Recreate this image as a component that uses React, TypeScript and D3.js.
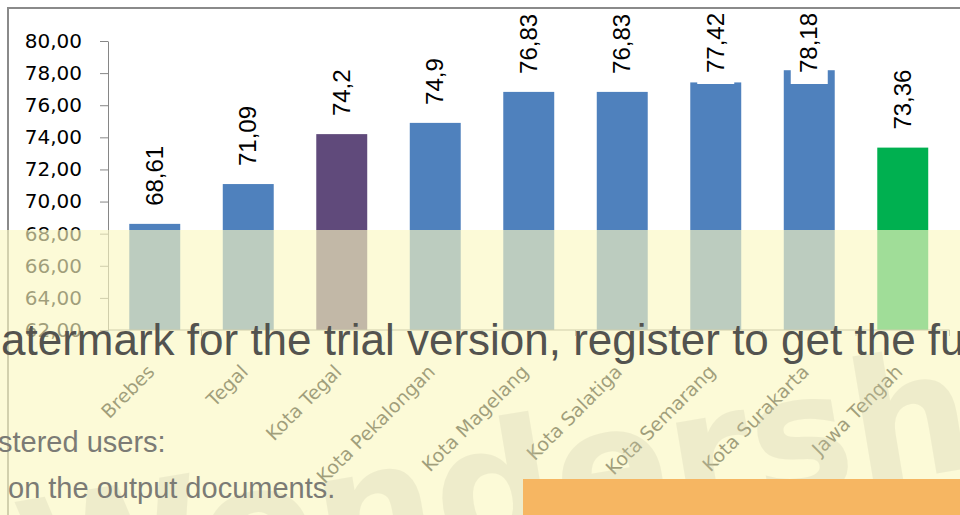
import React, { useEffect, useRef } from 'react';
import * as d3 from 'd3';

// data
const categories = ['Brebes', 'Tegal', 'Kota Tegal', 'Kota Pekalongan', 'Kota Magelang', 'Kota Salatiga', 'Kota Semarang', 'Kota Surakarta', 'Jawa Tengah'];
const values = [68.61, 71.09, 74.2, 74.9, 76.83, 76.83, 77.42, 78.18, 73.36];
const valueLabels = ['68,61', '71,09', '74,2', '74,9', '76,83', '76,83', '77,42', '78,18', '73,36'];
const barColors = ['#4f81bd', '#4f81bd', '#604a7b', '#4f81bd', '#4f81bd', '#4f81bd', '#4f81bd', '#4f81bd', '#00b050'];
const yTicks = [62, 64, 66, 68, 70, 72, 74, 76, 78, 80];
const yTickLabels = ['62,00', '64,00', '66,00', '68,00', '70,00', '72,00', '74,00', '76,00', '78,00', '80,00'];

// trial watermark lying over the picture
const watermarkTitle = 'atermark for the trial version, register to get the full one!';
const watermarkLine1 = 'stered users:';
const watermarkLine2 = 'on the output documents.';
const watermarkLogo = 'Wondershare';

const W = 960;
const H = 515;

const BarChart = () => {
  const ref = useRef<SVGSVGElement | null>(null);

  useEffect(() => {
    if (!ref.current) return;
    const svg = d3.select(ref.current);
    svg.selectAll('*').remove();

    const left = 108;
    const right = 949.5;
    const top = 41;
    const bottom = 330;

    const x = d3.scaleBand<string>()
      .domain(categories)
      .range([left, right])
      .paddingInner(0.455)
      .paddingOuter(0.2275);

    const y = d3.scaleLinear()
      .domain([62, 80])
      .range([bottom, top]);

    svg.append('rect').attr('width', W).attr('height', H).attr('fill', '#fff');

    // chart area border
    svg.append('path')
      .attr('d', `M8,${H} V8 H${W}`)
      .attr('fill', 'none')
      .attr('stroke', '#8a8a8a')
      .attr('stroke-width', 2);

    // bars
    svg.append('g')
      .selectAll('rect')
      .data(values)
      .enter()
      .append('rect')
      .attr('x', (d, i) => x(categories[i]) as number)
      .attr('y', d => y(d))
      .attr('width', x.bandwidth())
      .attr('height', d => bottom - y(d))
      .attr('fill', (d, i) => barColors[i]);

    // value labels (kept inside the plot, white box behind)
    const labels = svg.append('g');
    values.forEach((v, i) => {
      const cx = (x(categories[i]) as number) + x.bandwidth() / 2;
      const yb = Math.max(y(v) - 18, 73);
      labels.append('rect')
        .attr('x', cx - 18.5)
        .attr('y', yb - 62)
        .attr('width', 37)
        .attr('height', 73)
        .attr('fill', '#fff');
      labels.append('text')
        .attr('transform', `translate(${cx + 8},${yb}) rotate(-90)`)
        .attr('text-anchor', 'start')
        .style('font-family', '"Liberation Sans", Arial, sans-serif')
        .style('font-size', '24px')
        .style('fill', '#000')
        .text(valueLabels[i]);
    });

    // Y axis
    svg.append('g')
      .attr('transform', `translate(${left},0)`)
      .call(d3.axisLeft(y)
        .tickValues(yTicks)
        .tickSize(8)
        .tickSizeOuter(0)
        .tickPadding(18)
        .tickFormat((d, i) => yTickLabels[i]))
      .call(g => g.select('.domain').attr('stroke', '#868686'))
      .call(g => g.selectAll('.tick line').attr('stroke', '#868686'))
      .call(g => g.selectAll('.tick text')
        .style('font-family', '"DejaVu Sans", Verdana, sans-serif')
        .style('font-size', '20px')
        .style('fill', '#000'));

    // X axis with ticks between categories
    const xAxis = svg.append('g');
    xAxis.append('line')
      .attr('x1', left).attr('x2', right)
      .attr('y1', bottom).attr('y2', bottom)
      .attr('stroke', '#868686');
    xAxis.selectAll('.xt')
      .data(d3.range(categories.length + 1))
      .enter()
      .append('line')
      .attr('x1', i => left + i * x.step())
      .attr('x2', i => left + i * x.step())
      .attr('y1', bottom)
      .attr('y2', bottom + 6)
      .attr('stroke', '#868686');
    xAxis.selectAll('text')
      .data(categories)
      .enter()
      .append('text')
      .attr('transform', d => `translate(${(x(d) as number) + x.bandwidth() / 2 + 1},373) rotate(-45)`)
      .attr('text-anchor', 'end')
      .style('font-family', '"DejaVu Sans", Verdana, sans-serif')
      .style('font-size', '19px')
      .style('fill', '#000')
      .text(d => d);

    // watermark band
    svg.append('rect')
      .attr('x', 0).attr('y', 230)
      .attr('width', W).attr('height', H - 230)
      .attr('fill', 'rgb(250,247,192)')
      .attr('opacity', 0.64);

    svg.append('text')
      .attr('transform', 'translate(30,625) rotate(-9.5)')
      .style('font-family', '"DejaVu Sans", sans-serif')
      .style('font-weight', 'bold')
      .style('font-size', '170px')
      .style('fill', 'rgb(200,198,170)')
      .style('opacity', 0.25)
      .text(watermarkLogo);

    svg.append('text')
      .attr('x', 1).attr('y', 355)
      .style('font-family', '"Liberation Sans", Arial, sans-serif')
      .style('font-size', '44px')
      .style('fill', '#53534f')
      .text(watermarkTitle);

    svg.append('text')
      .attr('x', -2).attr('y', 452)
      .style('font-family', '"Liberation Sans", Arial, sans-serif')
      .style('font-size', '29px')
      .style('fill', '#7b7b75')
      .text(watermarkLine1);

    svg.append('text')
      .attr('x', 8).attr('y', 498)
      .style('font-family', '"Liberation Sans", Arial, sans-serif')
      .style('font-size', '29px')
      .style('fill', '#7b7b75')
      .text(watermarkLine2);

    svg.append('rect')
      .attr('x', 523).attr('y', 479)
      .attr('width', W - 523).attr('height', H - 479)
      .attr('fill', '#f6b662');
  }, []);

  return (
    <svg
      ref={ref}
      width={W}
      height={H}
      style={{ position: 'absolute', left: 0, top: 0, display: 'block' }}
    />
  );
};

export default function App() {
  return <BarChart />;
}
